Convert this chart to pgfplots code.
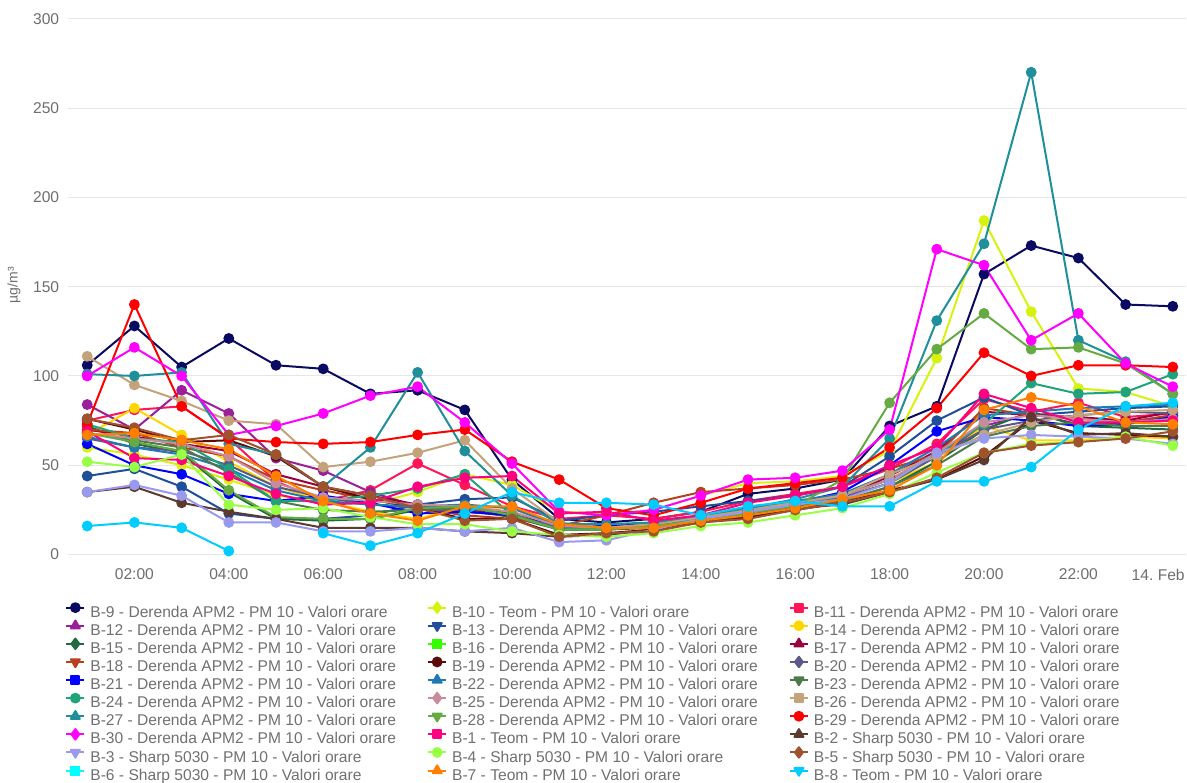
\documentclass[border=0pt]{standalone}
\usepackage{fontspec}
\setmainfont{Liberation Sans}
\usepackage{pgfplots}
\pgfplotsset{compat=1.18}
\usepackage{pgfplotstable}

\definecolor{c9}{HTML}{0A0A62}
\definecolor{c10}{HTML}{D7F20C}
\definecolor{c11}{HTML}{FF1558}
\definecolor{c12}{HTML}{9B1F9B}
\definecolor{c13}{HTML}{1F4E9A}
\definecolor{c14}{HTML}{FFD700}
\definecolor{c15}{HTML}{1F6B3F}
\definecolor{c16}{HTML}{33FF00}
\definecolor{c17}{HTML}{99003D}
\definecolor{c18}{HTML}{B8401F}
\definecolor{c19}{HTML}{5C0A0A}
\definecolor{c20}{HTML}{5A5A8A}
\definecolor{c21}{HTML}{0000FF}
\definecolor{c22}{HTML}{1F7AB3}
\definecolor{c23}{HTML}{4D7A4D}
\definecolor{c24}{HTML}{1FA37A}
\definecolor{c25}{HTML}{C98A9A}
\definecolor{c26}{HTML}{C4A27A}
\definecolor{c27}{HTML}{1F8F99}
\definecolor{c28}{HTML}{66AA44}
\definecolor{c29}{HTML}{FF0000}
\definecolor{c30}{HTML}{FF00FF}
\definecolor{c1}{HTML}{FF0080}
\definecolor{c2}{HTML}{5C3A30}
\definecolor{c3}{HTML}{9999EE}
\definecolor{c4}{HTML}{99FF44}
\definecolor{c5}{HTML}{A0522D}
\definecolor{c6}{HTML}{00FFFF}
\definecolor{c7}{HTML}{FF8000}
\definecolor{c8}{HTML}{00CCFF}
\definecolor{tickgray}{HTML}{6E6E6E}
\definecolor{leggray}{HTML}{707070}
\definecolor{gridgray}{HTML}{E6E6E6}

\pgfplotstableread{
h   B9  B10 B11 B12 B13 B14 B15 B17 B18 B19 B20 B21 B22 B23 B24 B25 B26 B27 B28 B29 B30 B1 B2 B3 B4 B5 B7 B8
1   106 60  75  84  44  67  72  70  70  76  65  62  66  68  73  68  111 101 68  73  100 69 35 35 52 76 67 16
2   128 56  81  70  48  82  62  66  68  70  60  50  60  64  65  65  95  100 63  140 116 54 38 39 49 71 68 18
3   105 50  83  92  38  67  57  62  60  63  58  45  56  60  63  62  86  102 58  83  100 53 29 33 56 64 64 15
4   121 42  65  79  23  52  35  58  55  64  50  34  48  46  48  55  75  62  36  65  67  44 24 18 28 67 59 2
5   106 33  41  54  20  38  20  45  42  55  38  30  36  30  30  40  73  56  21  63  72  34 20 18 25 56 44 nan
6   104 30  30  47  20  30  19  38  36  38  32  33  30  25  30  32  49  38  20  62  79  28 15 13 26 38 30 12
7   90  28  36  35  22  24  20  33  31  31  28  29  28  24  33  30  52  60  20  63  89  29 15 13 21 33 23 5
8   92  35  51  27  28  20  25  28  26  26  26  23  27  25  37  28  57  102 26  67  94  38 15 15 17 26 19 12
9   81  45  39  24  31  27  25  25  22  20  24  24  28  26  45  27  64  58  27  70  74  43 13 13 17 19 27 23
10  42  39  27  22  32  26  21  22  20  20  22  22  26  23  22  24  37  33  22  52  51  44 12 15 13 20 27 35
11  20  24  20  17  19  16  14  15  16  11  15  17  16  14  14  16  18  17  14  42  24  23 10 7  11 10 17 29
12  18  23  22  16  22  15  14  15  22  12  15  16  15  14  15  15  15  17  14  26  22  24 11 8  10 12 15 29
13  20  25  20  17  24  17  15  16  29  14  17  17  17  16  17  17  17  18  16  22  25  19 14 14 12 13 15 28
14  24  33  24  21  27  20  19  20  35  18  20  21  21  19  20  21  21  22  19  29  33  22 18 20 16 18 19 22
15  34  40  30  25  30  24  22  24  37  21  24  25  26  23  24  25  25  26  23  37  42  29 22 24 18 20 22 27
16  37  41  34  29  33  28  26  28  39  25  28  29  30  27  28  29  29  31  27  40  43  33 26 28 22 25 26 30
17  42  44  38  33  38  32  30  32  42  29  32  35  34  30  33  33  33  38  42  43  47  38 28 31 26 29 31 27
18  72  58  48  42  55  40  38  44  48  36  40  50  45  38  42  42  45  65  85  60  70  50 35 40 34 35 36 27
19  83  110 62  55  75  52  52  58  56  42  55  69  60  50  56  57  55  131 115 82  171 60 42 57 46 43 50 41
20  157 187 87  72  88  72  70  80  82  55  70  77  78  66  73  74  67  174 135 113 162 90 53 65 57 57 81 41
21  173 136 80  79  78  64  80  78  78  75  75  75  80  72  96  78  74  270 115 100 120 82 77 67 62 61 88 49
22  166 93  85  73  80  64  72  77  76  68  78  72  82  74  90  76  78  120 116 106 135 74 67 66 63 63 83 70
23  140 91  77  74  82  66  71  75  74  67  80  73  83  72  91  74  80  108 107 106 107 74 68 65 66 65 74 83
24  139 83  79  78  83  65  70  80  78  66  79  77  84  72  101 76  81  90  90  105 94  75 66 62 61 69 73 85
}\data

\pgfplotsset{
  lci/.style={},
  ldi/.style={legend image post style={mark=diamond*, mark size=2.6pt}},
  lsq/.style={legend image post style={mark=square*, mark size=2pt}},
  ltr/.style={legend image post style={mark=triangle*, mark size=2.6pt}},
  ltd/.style={legend image post style={mark=triangle*, mark size=2.6pt, mark options={rotate=180}}},
}
\newcommand{\ser}[3]{%
  \addplot[c#1, line width=1pt, line join=round, mark=*, mark size=2.2pt, #3] table[x=h,y=B#1]{\data};
  \addlegendentry{B-#1 - #2 - PM 10 - Valori orare}}
\newcommand{\emptyser}[4]{%
  \addlegendimage{c#1, line width=1pt, mark=#4, mark size=2pt, #3}
  \addlegendentry{B-#1 - #2 - PM 10 - Valori orare}}

\begin{document}
\begin{tikzpicture}[x=1pt,y=1pt]
\path[use as bounding box] (0,0) rectangle (593.5,391);
\begin{axis}[
  at={(34pt,113.7pt)}, anchor=south west,
  scale only axis, width=559pt, height=267.95pt,
  xmin=0.593, xmax=24.28, ymin=0, ymax=300,
  axis line style={draw=none},
  major tick length=0pt,
  ymajorgrids, grid style={color=gridgray, line width=0.5pt},
  ytick={0,50,...,300},
  xtick={2,4,...,22},
  xticklabels={02:00,04:00,06:00,08:00,10:00,12:00,14:00,16:00,18:00,20:00,22:00},
  extra x ticks={24},
  extra x tick labels={14.\ Feb},
  extra x tick style={grid=none, xticklabel style={xshift=-7.3pt}},
  /pgf/number format/assume math mode=true,
  tick label style={font=\fontsize{7.8}{9}\selectfont, text=tickgray},
  yticklabel style={xshift=-0.9pt},
  xticklabel style={yshift=-3.6pt},
  ylabel={µg/m³},
  ylabel style={font=\fontsize{7}{8}\selectfont, text=tickgray, at={(axis description cs:-0.0483,0.503)}, anchor=center},
  unbounded coords=jump,
  legend columns=3,
  legend cell align=left,
  legend image code/.code={\draw[mark repeat=2,mark phase=2,#1] plot coordinates {(0pt,2.8pt)(4.5pt,2.8pt)(9pt,2.8pt)};},
  legend style={at={(-0.0027,-0.0885)}, anchor=north west, draw=none, fill=none, inner sep=0pt,
    font=\fontsize{7.8}{9}\selectfont, text=leggray,
    nodes={inner xsep=2.5pt, inner ysep=0.5pt, text height=6pt, text depth=2pt},
    row sep=-0.85pt,
    /tikz/every even column/.append style={column sep=13pt}},
]
\ser{9}{Derenda APM2}{lci}
\ser{10}{Teom}{ldi}
\ser{11}{Derenda APM2}{lsq}
\ser{12}{Derenda APM2}{ltr}
\ser{13}{Derenda APM2}{ltd}
\ser{14}{Derenda APM2}{lci}
\ser{15}{Derenda APM2}{ldi}
\emptyser{16}{Derenda APM2}{}{square*}
\ser{17}{Derenda APM2}{ltr}
\ser{18}{Derenda APM2}{ltd}
\ser{19}{Derenda APM2}{lci}
\ser{20}{Derenda APM2}{ldi}
\ser{21}{Derenda APM2}{lsq}
\ser{22}{Derenda APM2}{ltr}
\ser{23}{Derenda APM2}{ltd}
\ser{24}{Derenda APM2}{lci}
\ser{25}{Derenda APM2}{ldi}
\ser{26}{Derenda APM2}{lsq}
\ser{27}{Derenda APM2}{ltr}
\ser{28}{Derenda APM2}{ltd}
\ser{29}{Derenda APM2}{lci}
\ser{30}{Derenda APM2}{ldi}
\ser{1}{Teom}{lsq}
\ser{2}{Sharp 5030}{ltr}
\ser{3}{Sharp 5030}{ltd}
\ser{4}{Sharp 5030}{lci}
\ser{5}{Sharp 5030}{ldi}
\emptyser{6}{Sharp 5030}{}{square*}
\ser{7}{Teom}{ltr}
\ser{8}{Teom}{ltd}
\end{axis}
\end{tikzpicture}
\end{document}
